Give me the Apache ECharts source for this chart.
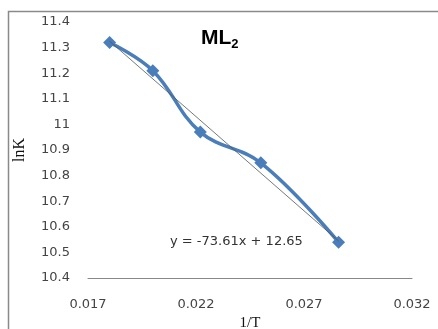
<!DOCTYPE html>
<html><head><meta charset="utf-8">
<script src="https://cdn.jsdelivr.net/npm/echarts@6/dist/echarts.min.js"></script>
<style>html,body{margin:0;padding:0;background:#fff}#c{width:438px;height:329px}</style>
</head><body><div id="c"></div>
<script>
const invT = [0.018, 0.020, 0.0222, 0.025, 0.0286];
const lnK = [11.32, 11.21, 10.97, 10.85, 10.54];
const trendX = [0.018, 0.0286];
const slope = -73.61, intercept = 12.65;
const xTicks = [0.017, 0.022, 0.027, 0.032];
const yTicks = [10.4, 10.5, 10.6, 10.7, 10.8, 10.9, 11, 11.1, 11.2, 11.3, 11.4];

const trend = trendX.map(x => [x, slope * x + intercept]);
const chart = echarts.init(document.getElementById('c'));
chart.setOption({
  animation: false,
  grid: {left: 88, right: 26, top: 22, bottom: 51, outerBoundsMode: 'none', containLabel: false},
  xAxis: {
    type: 'value', min: 0.017, max: 0.032, interval: 0.005,
    axisLine: {show: true, lineStyle: {color: '#888', width: 1}},
    axisTick: {show: false}, splitLine: {show: false},
    axisLabel: {color: '#444', fontSize: 13, fontFamily: 'DejaVu Sans', margin: 20,
      formatter: v => xTicks.find(t => Math.abs(t - v) < 1e-9)?.toString() ?? ''},
    name: '1/T', nameLocation: 'middle', nameGap: 37,
    nameTextStyle: {fontFamily: 'Liberation Serif', fontSize: 15, color: '#111'}
  },
  yAxis: {
    type: 'value', min: 10.4, max: 11.4, interval: 0.1,
    axisLine: {show: false}, axisTick: {show: false}, splitLine: {show: false},
    axisLabel: {color: '#444', fontSize: 13, fontFamily: 'DejaVu Sans', margin: 18,
      formatter: v => { const t = yTicks.find(t => Math.abs(t - v) < 1e-6); return t === undefined ? '' : String(t); }},
    name: 'lnK', nameLocation: 'middle', nameGap: 60, nameRotate: 90,
    nameTextStyle: {fontFamily: 'Liberation Serif', fontSize: 16, color: '#111'}
  },
  graphic: [
    {type: 'polyline', shape: {points: [[8.5, 340], [8.5, 11.5], [440, 11.5]]},
     style: {stroke: '#8a8a8a', lineWidth: 1.5, fill: null}, silent: true},
    {type: 'text', left: 201, top: 28, style: {
      text: '{b|ML}{s|2}', rich: {
        b: {fontFamily: 'Liberation Sans', fontWeight: 'bold', fontSize: 21, fill: '#000'},
        s: {fontFamily: 'Liberation Sans', fontWeight: 'bold', fontSize: 13, fill: '#000', padding: [12, 0, 0, 0]}
      }}},
    {type: 'text', left: 170, top: 235, style: {
      text: 'y = -73.61x + 12.65', fontFamily: 'DejaVu Sans', fontSize: 13, fill: '#333'}}
  ],
  series: [
    {type: 'line', data: trend, symbol: 'none', z: 3,
     lineStyle: {color: '#555', width: 0.8}},
    {type: 'line', data: invT.map((x, i) => [x, lnK[i]]), smooth: 0.4,
     symbol: 'diamond', symbolSize: 13, z: 2,
     itemStyle: {color: '#4a7ebb'}, lineStyle: {color: '#4a7ebb', width: 3.5}}
  ]
});
</script></body></html>
